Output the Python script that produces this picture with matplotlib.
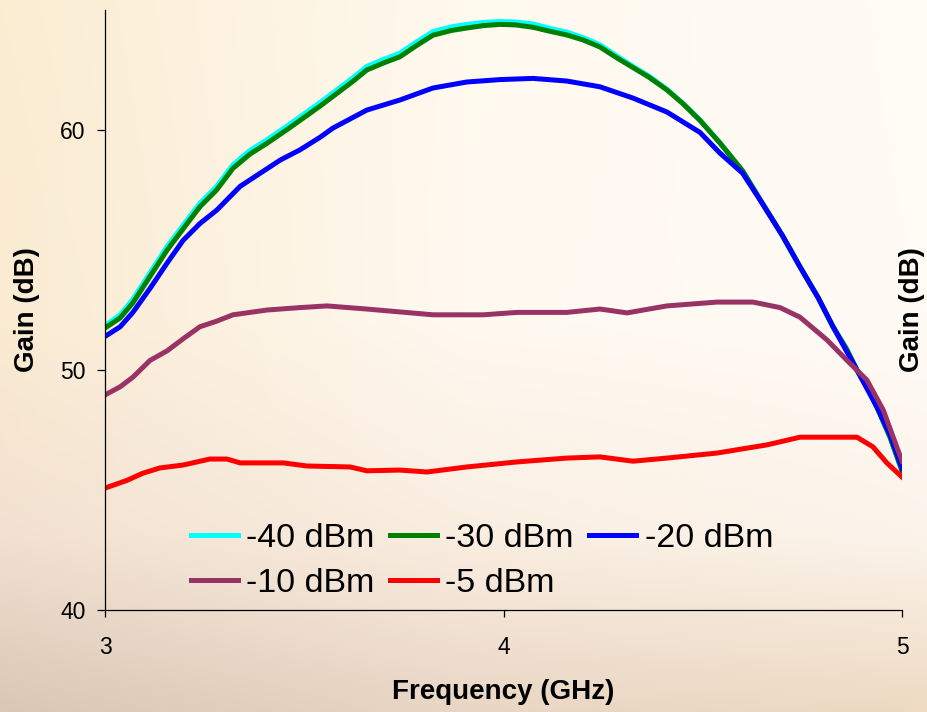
import numpy as np
import matplotlib
matplotlib.use('Agg')
import matplotlib.pyplot as plt

plt.rcParams['font.family'] = ['Liberation Sans', 'DejaVu Sans']

# gain curves
freq_hi = [3.000, 3.038, 3.070, 3.113, 3.156, 3.206, 3.238, 3.280, 3.321, 3.364,
           3.407, 3.464, 3.540, 3.572, 3.620, 3.657, 3.700, 3.740, 3.780, 3.823,
           3.870, 3.908, 3.950, 3.991, 4.030, 4.074, 4.120, 4.159, 4.200, 4.242,
           4.285, 4.325, 4.365, 4.410, 4.450, 4.493, 4.543, 4.600, 4.644, 4.700,
           4.744, 4.790, 4.827, 4.860, 4.887, 4.915, 4.937, 4.970, 5.000]
gain_m40 = [51.85, 52.3, 52.95, 54.05, 55.15, 56.25, 56.95, 57.65, 58.55, 59.15,
            59.6, 60.25, 61.15, 61.55, 62.15, 62.65, 62.95, 63.2, 63.65, 64.1,
            64.3, 64.4, 64.48, 64.52, 64.5, 64.42, 64.22, 64.08, 63.85, 63.55,
            63.08, 62.65, 62.25, 61.7, 61.12, 60.42, 59.47, 58.3, 57.1, 55.6,
            54.3, 53.0, 51.8, 50.9, 50.0, 49.2, 48.45, 47.2, 45.8]
gain_m30 = [51.75, 52.17, 52.8, 53.9, 55.0, 56.1, 56.8, 57.5, 58.4, 59.0,
            59.45, 60.1, 61.0, 61.4, 62.0, 62.5, 62.8, 63.05, 63.5, 63.95,
            64.15, 64.25, 64.35, 64.4, 64.38, 64.28, 64.1, 63.96, 63.75, 63.46,
            63.0, 62.6, 62.2, 61.67, 61.1, 60.4, 59.46, 58.3, 57.1, 55.6,
            54.3, 53.0, 51.8, 50.9, 50.0, 49.2, 48.46, 47.2, 45.8]

freq_m20 = [3.000, 3.038, 3.070, 3.113, 3.156, 3.196, 3.238, 3.281, 3.339, 3.440,
            3.489, 3.540, 3.572, 3.657, 3.740, 3.823, 3.908, 3.991, 4.074, 4.159,
            4.242, 4.325, 4.410, 4.493, 4.543, 4.600, 4.644, 4.700, 4.744, 4.790,
            4.827, 4.887, 4.937, 4.970, 5.000]
gain_m20 = [51.4, 51.8, 52.4, 53.4, 54.46, 55.4, 56.1, 56.67, 57.65, 58.75,
            59.17, 59.7, 60.08, 60.83, 61.25, 61.75, 62.0, 62.1, 62.15, 62.04,
            61.8, 61.33, 60.75, 59.9, 59.04, 58.2, 57.08, 55.6, 54.3, 53.0,
            51.8, 50.0, 48.46, 47.3, 45.9]

freq_m10 = [3.000, 3.038, 3.070, 3.113, 3.156, 3.196, 3.238, 3.281, 3.321, 3.407,
            3.489, 3.557, 3.657, 3.740, 3.823, 3.949, 4.034, 4.159, 4.242, 4.310,
            4.410, 4.536, 4.626, 4.694, 4.744, 4.812, 4.862, 4.912, 4.953, 5.000]
gain_m10 = [48.96, 49.3, 49.7, 50.4, 50.8, 51.3, 51.8, 52.04, 52.3, 52.5,
            52.6, 52.67, 52.54, 52.42, 52.3, 52.3, 52.4, 52.4, 52.54, 52.38,
            52.67, 52.83, 52.83, 52.6, 52.2, 51.25, 50.4, 49.58, 48.33, 46.2]

freq_m5 = [3.000, 3.055, 3.095, 3.138, 3.196, 3.263, 3.306, 3.339, 3.447, 3.507,
           3.615, 3.657, 3.740, 3.808, 3.908, 4.034, 4.159, 4.242, 4.325, 4.410,
           4.536, 4.661, 4.744, 4.887, 4.927, 4.962, 5.000]
gain_m5 = [45.08, 45.4, 45.7, 45.92, 46.04, 46.29, 46.29, 46.13, 46.13, 46.0,
           45.96, 45.8, 45.83, 45.75, 45.96, 46.17, 46.33, 46.38, 46.2, 46.33,
           46.54, 46.88, 47.2, 47.2, 46.8, 46.13, 45.54]

fig = plt.figure(figsize=(9.28, 7.12), dpi=100)

# warm gradient background behind everything
bg = fig.add_axes([0, 0, 1, 1], zorder=-1)
bg.axis('off')
ys = [0.0, 0.45, 0.75, 1.0]
xs = [0.0, 0.5, 1.0]
grid = np.array([
    [[251, 237, 210], [255, 249, 238], [255, 252, 246]],
    [[250, 235, 210], [255, 249, 240], [255, 251, 245]],
    [[242, 225, 208], [250, 238, 225], [252, 244, 235]],
    [[218, 200, 182], [233, 214, 196], [238, 218, 194]],
], dtype=float) / 255
h, w = 712, 928
yy = np.linspace(0, 1, h)
xx = np.linspace(0, 1, w)
rows = np.empty((len(ys), w, 3))
for i in range(len(ys)):
    for c in range(3):
        rows[i, :, c] = np.interp(xx, xs, grid[i, :, c])
img = np.empty((h, w, 3))
for c in range(3):
    for j in range(w):
        img[:, j, c] = np.interp(yy, ys, rows[:, j, c])
bg.imshow(img, aspect='auto', extent=[0, 1, 0, 1])
bg.set_xlim(0, 1)
bg.set_ylim(0, 1)

ax = fig.add_axes([105/928, 1-610/712, 797/928, 600/712])
ax.patch.set_alpha(0)

lw = 3.6
l40, = ax.plot(freq_hi, gain_m40, color='#00ffff', lw=lw, label='-40 dBm')
l30, = ax.plot(freq_hi, gain_m30, color='#008000', lw=lw, label='-30 dBm')
l20, = ax.plot(freq_m20, gain_m20, color='#0000ff', lw=lw, label='-20 dBm')
l10, = ax.plot(freq_m10, gain_m10, color='#993366', lw=lw, label='-10 dBm')
l5, = ax.plot(freq_m5, gain_m5, color='#ff0000', lw=lw, label='-5 dBm')

ax.set_xlim(3, 5)
ax.set_ylim(40, 65)
ax.set_xticks([3, 4, 5])
ax.set_yticks([40, 50, 60])
ax.spines['top'].set_visible(False)
ax.spines['right'].set_visible(False)
for s in ['left', 'bottom']:
    ax.spines[s].set_linewidth(0.9)
ax.tick_params(axis='y', direction='out', length=6, width=0.9, pad=8, labelsize=16.5)
ax.tick_params(axis='x', direction='out', length=5, width=0.9, pad=14, labelsize=16.5)

ax.set_xlabel('Frequency (GHz)', fontsize=20, fontweight='bold', va='center')
ax.xaxis.set_label_coords(0.5, (610-692)/600)
ax.set_ylabel('Gain (dB)', fontsize=20, fontweight='bold', va='center')
ax.yaxis.set_label_coords((27-105)/797, 0.5)
ax.text((912-105)/797, 0.5, 'Gain (dB)', transform=ax.transAxes, rotation=90,
        fontsize=20, fontweight='bold', ha='center', va='center')

# legend filled column by column, so order handles to read row-wise
handles = [l40, l10, l30, l5, l20]
ax.legend(handles=handles, labels=[x.get_label() for x in handles],
          loc='center left', bbox_to_anchor=((191-105)/797, (610-561)/600),
          ncol=3, frameon=False, fontsize=24.5, handlelength=1.38,
          handletextpad=0.24, columnspacing=0.46, labelspacing=0.42,
          borderpad=0, borderaxespad=0)

fig.savefig('out.png', dpi=100)
